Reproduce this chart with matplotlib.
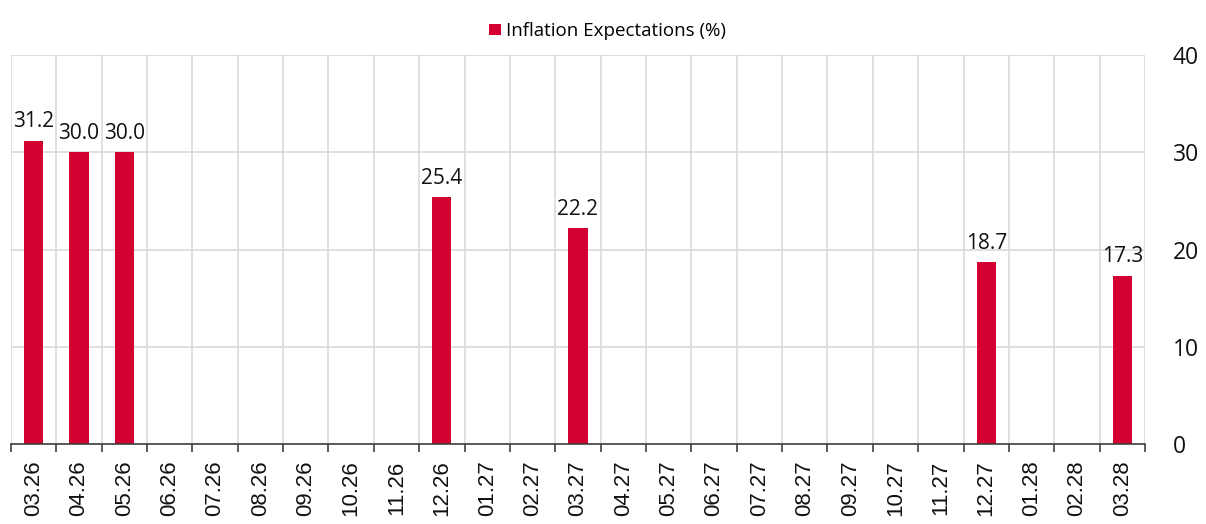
import matplotlib.pyplot as plt
import numpy as np

# data
months = ["03.26", "04.26", "05.26", "06.26", "07.26", "08.26", "09.26", "10.26",
          "11.26", "12.26", "01.27", "02.27", "03.27", "04.27", "05.27", "06.27",
          "07.27", "08.27", "09.27", "10.27", "11.27", "12.27", "01.28", "02.28", "03.28"]
nan = np.nan
inflation = [31.2, 30.0, 30.0, nan, nan, nan, nan, nan, nan, 25.4, nan, nan, 22.2,
             nan, nan, nan, nan, nan, nan, nan, nan, 18.7, nan, nan, 17.3]
y_ticks = [0, 10, 20, 30, 40]

bar_color = "#D50032"
grid_color = "#D9D9D9"

fig = plt.figure(figsize=(12.06, 5.24), dpi=100)
ax = fig.add_axes([0.0091, 0.1527, 0.9403, 0.7423])

x = np.arange(len(months))
bars = ax.bar(x, inflation, width=0.42, color=bar_color, label="Inflation Expectations (%)", zorder=3)

# value labels
for xi, v in zip(x, inflation):
    if not np.isnan(v):
        ax.annotate(f"{v:.1f}", (xi, v), xytext=(0, 6), textcoords="offset points",
                    ha="center", va="bottom", fontsize=15, family="Open Sans",
                    color="#111111", zorder=4)

ax.set_xlim(-0.5, len(months) - 0.5)
ax.set_ylim(0, 40)
ax.set_yticks(y_ticks)
ax.yaxis.tick_right()
ax.tick_params(axis="y", length=0, pad=20, labelsize=16.5, labelcolor="#111111")
for lbl in ax.get_yticklabels():
    lbl.set_family("Open Sans")

# category boundaries as ticks and vertical grid
ax.set_xticks(x)
ax.set_xticklabels(months, rotation=90, fontsize=16, family="Liberation Sans", color="#111111")
ax.tick_params(axis="x", length=0, pad=12)
ax.set_xticks(np.arange(-0.5, len(months)), minor=True)
ax.tick_params(axis="x", which="minor", length=6, color="#404040", width=1.2)
ax.grid(True, which="minor", axis="x", color=grid_color, linewidth=1.2, zorder=0)
ax.grid(True, which="major", axis="y", color=grid_color, linewidth=1.2, zorder=0)
ax.grid(False, which="major", axis="x")

for side in ["top", "left", "right"]:
    ax.spines[side].set_visible(False)
ax.spines["bottom"].set_color("#404040")
ax.spines["bottom"].set_linewidth(1.2)
ax.spines["bottom"].set_zorder(5)

fig.legend(handles=[bars], loc="upper center", bbox_to_anchor=(0.504, 0.99), frameon=False,
           prop={"family": "Open Sans", "size": 13.5}, handlelength=0.6, handleheight=0.6,
           handletextpad=0.3)

fig.savefig("out.png", dpi=100)
